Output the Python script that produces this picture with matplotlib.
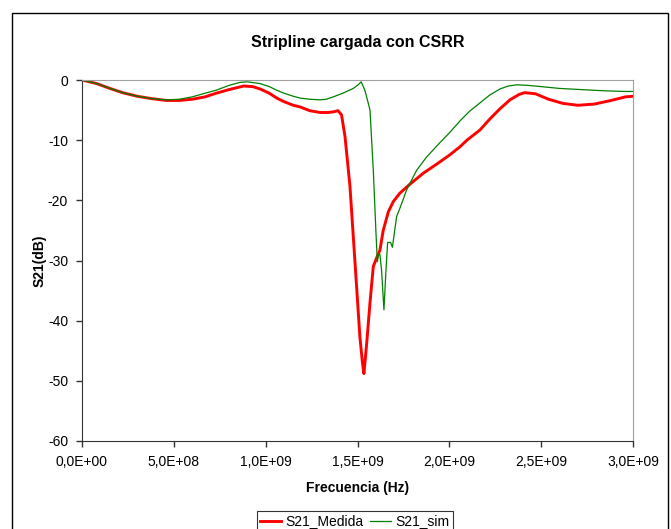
import matplotlib.pyplot as plt
from matplotlib.patches import Rectangle

plt.rcParams['font.family'] = ['Liberation Sans', 'DejaVu Sans']
plt.rcParams['axes.unicode_minus'] = False

# frequency (GHz) and S21 (dB)
freq_medida = [0.0, 0.08, 0.152, 0.22, 0.3, 0.38, 0.46, 0.53, 0.6, 0.67, 0.73, 0.8,
               0.88, 0.93, 0.97, 1.02, 1.06, 1.1, 1.15, 1.19, 1.24, 1.296, 1.34, 1.368,
               1.394, 1.413, 1.432, 1.459, 1.477, 1.495, 1.513, 1.527, 1.535, 1.55,
               1.568, 1.586, 1.605, 1.622, 1.64, 1.668, 1.695, 1.731, 1.786, 1.858,
               1.911, 1.949, 2.0, 2.058, 2.096, 2.167, 2.22, 2.275, 2.33, 2.38, 2.41,
               2.47, 2.54, 2.62, 2.7, 2.79, 2.88, 2.96, 3.0]
s21_medida = [0.0, -0.6, -1.4, -2.1, -2.7, -3.1, -3.4, -3.4, -3.2, -2.8, -2.2, -1.6,
              -1.0, -1.1, -1.5, -2.2, -3.0, -3.6, -4.2, -4.5, -5.1, -5.4, -5.4, -5.3,
              -5.1, -5.8, -9.4, -17.7, -26.0, -34.3, -42.7, -47.0, -48.8, -43.8,
              -37.0, -31.0, -29.5, -28.3, -25.0, -21.9, -20.2, -18.8, -17.3, -15.5,
              -14.4, -13.6, -12.5, -11.1, -10.0, -8.3, -6.5, -4.8, -3.3, -2.4, -2.1,
              -2.3, -3.2, -3.9, -4.2, -4.0, -3.4, -2.8, -2.7]

freq_sim = [0.0, 0.08, 0.152, 0.22, 0.3, 0.38, 0.46, 0.53, 0.6, 0.67, 0.73, 0.8,
            0.86, 0.9, 0.97, 1.02, 1.06, 1.1, 1.15, 1.187, 1.24, 1.296, 1.33, 1.368,
            1.42, 1.477, 1.504, 1.52, 1.54, 1.559, 1.568, 1.586, 1.6, 1.608, 1.615,
            1.622, 1.631, 1.644, 1.655, 1.664, 1.68, 1.69, 1.713, 1.731, 1.767,
            1.822, 1.876, 1.949, 2.0, 2.058, 2.11, 2.167, 2.22, 2.275, 2.32, 2.37,
            2.43, 2.5, 2.6, 2.72, 2.85, 2.95, 3.0]
s21_sim = [0.0, -0.6, -1.4, -2.1, -2.7, -3.1, -3.3, -3.2, -2.8, -2.2, -1.7, -0.9,
           -0.4, -0.3, -0.6, -1.1, -1.7, -2.2, -2.7, -3.0, -3.2, -3.3, -3.2, -2.8,
           -2.2, -1.4, -0.8, -0.3, -1.7, -3.9, -5.0, -15.0, -25.0, -30.2, -29.0,
           -29.0, -31.6, -38.2, -31.6, -27.0, -27.0, -27.8, -22.7, -21.3, -18.3,
           -15.0, -12.8, -10.4, -8.8, -6.8, -5.2, -3.8, -2.5, -1.5, -1.0, -0.8,
           -0.9, -1.1, -1.4, -1.6, -1.8, -1.9, -1.9]

fig = plt.figure(figsize=(6.71, 5.29), dpi=100)
ax = fig.add_axes([82 / 671, 1 - 441 / 529, (633 - 82) / 671, (441 - 80) / 529])

ax.plot([f * 1e9 for f in freq_medida], s21_medida, color='#ff0000', lw=2.1, label='S21_Medida')
ax.plot([f * 1e9 for f in freq_sim], s21_sim, color='#008000', lw=0.9, label='S21_sim')

ax.set_xlim(0, 3e9)
ax.set_ylim(-60, 0)
ax.set_xticks([i * 5e8 for i in range(7)])
ax.set_xticklabels(['0,0E+00', '5,0E+08', '1,0E+09', '1,5E+09', '2,0E+09', '2,5E+09', '3,0E+09'])
ax.set_yticks(range(-60, 1, 10))
ax.tick_params(labelsize=10, length=4, width=1, color='#333333', pad=6)

for side in ['top', 'right']:
    ax.spines[side].set_color('#a0a0a0')
for side in ['left', 'bottom']:
    ax.spines[side].set_color('#333333')

ax.set_title('Stripline cargada con CSRR', fontsize=11.5, fontweight='bold', pad=24)
ax.set_xlabel('Frecuencia (Hz)', fontsize=10, fontweight='bold', labelpad=9)
ax.set_ylabel('S21(dB)', fontsize=10, fontweight='bold', labelpad=1)

leg = fig.legend(loc='upper center', bbox_to_anchor=(355 / 671, 1 - 511 / 529), ncol=2,
                 fontsize=10, frameon=True, fancybox=False, edgecolor='black',
                 handlelength=1.5, handletextpad=0.3, columnspacing=0.5,
                 borderpad=0.25, borderaxespad=0)
leg.get_frame().set_linewidth(0.8)

fig.patches.append(Rectangle((12 / 671, -0.05), (668 - 12) / 671, 1 - 13 / 529 + 0.05,
                             transform=fig.transFigure, fill=False, edgecolor='black', lw=1))

fig.savefig('out.png', dpi=100)
